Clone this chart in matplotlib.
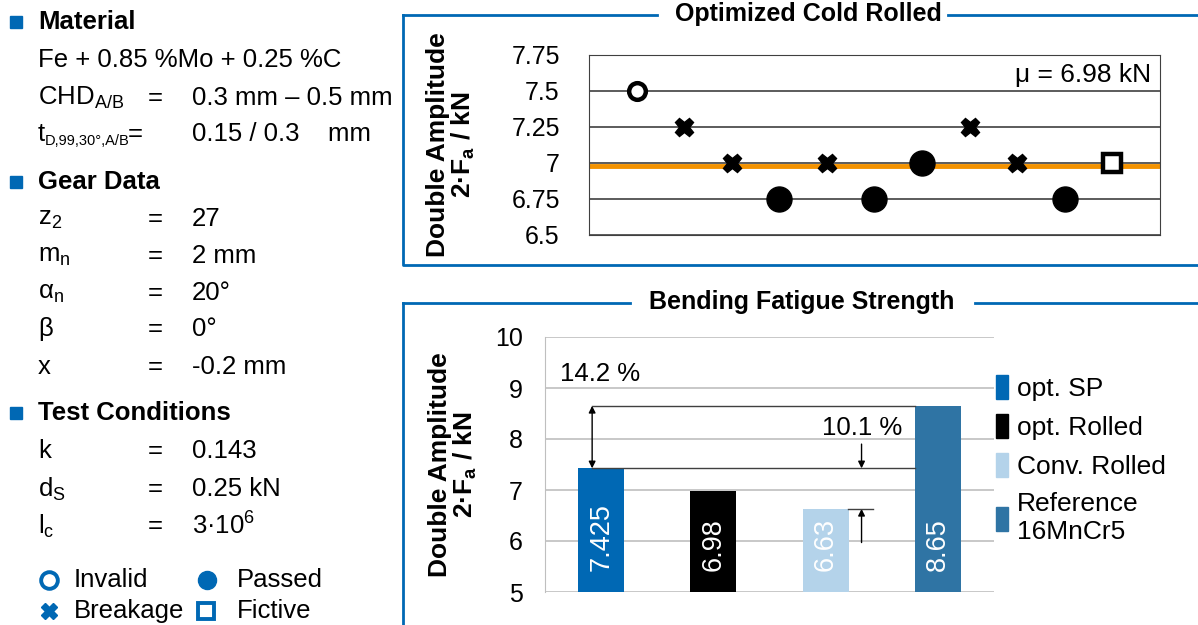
import matplotlib
matplotlib.use("Agg")
import matplotlib.pyplot as plt

plt.rcParams['font.family'] = ['Liberation Sans', 'DejaVu Sans']
plt.rcParams['mathtext.fontset'] = 'custom'
plt.rcParams['mathtext.rm'] = 'Liberation Sans'
plt.rcParams['mathtext.it'] = 'Liberation Sans'
plt.rcParams['mathtext.bf'] = 'Liberation Sans:bold'

# daten: treppenstufenversuch optimized cold rolled
test_no = [1, 2, 3, 4, 5, 6, 7, 8, 9, 10, 11]
amplitude = [7.5, 7.25, 7.0, 6.75, 7.0, 6.75, 7.0, 7.25, 7.0, 6.75, 7.0]
outcome = ['invalid', 'breakage', 'breakage', 'passed', 'breakage', 'passed',
           'passed', 'breakage', 'breakage', 'passed', 'fictive']
mean_amp = 6.98
top_ticks = [6.5, 6.75, 7, 7.25, 7.5, 7.75]
top_ticklabels = ['6.5', '6.75', '7', '7.25', '7.5', '7.75']

# daten: bending fatigue strength
variants = ['opt. SP', 'opt. Rolled', 'Conv. Rolled', 'Reference\n16MnCr5']
strength = [7.425, 6.98, 6.63, 8.65]
bar_colors = ['#0068B4', '#000000', '#B4D3EA', '#2F74A4']
gain_ref = '14.2 %'
gain_conv = '10.1 %'

BLUE = '#0068B4'
W, H = 1198, 625

fig = plt.figure(figsize=(W / 100, H / 100), dpi=100)

# overlay in pixeln fuer rahmen und text
ov = fig.add_axes([0, 0, 1, 1])
ov.set_xlim(0, W)
ov.set_ylim(H, 0)
ov.axis('off')

fs = 18.5

# linke spalte
def head(y, txt):
    ov.plot([16], [y], marker='s', ms=8.5, color=BLUE, ls='none')
    ov.text(38, y, txt, fontsize=fs, fontweight='bold', va='center')

def row(y, lab, val):
    ov.text(38, y, lab, fontsize=fs, va='center')
    ov.text(148, y, '=', fontsize=fs, va='center')
    ov.text(192, y, val, fontsize=fs, va='center')

head(22, 'Material')
ov.text(38, 60, 'Fe + 0.85 %Mo + 0.25 %C', fontsize=fs, va='center')
row(98, r'CHD$_\mathregular{A/B}$', '0.3 mm – 0.5 mm')
ov.text(38, 134, 't', fontsize=fs, va='center')
ov.text(45, 141, 'D,99,30°,A/B', fontsize=10.5, va='center')
ov.text(128, 134, '=', fontsize=fs, va='center')
ov.text(192, 134, '0.15 / 0.3    mm', fontsize=fs, va='center')
head(182, 'Gear Data')
row(219, r'z$_\mathregular{2}$', '27')
row(256, r'm$_\mathregular{n}$', '2 mm')
row(293, r'α$_\mathregular{n}$', '20°')
row(329, 'β', '0°')
row(367, 'x', '-0.2 mm')
head(413, 'Test Conditions')
row(451, 'k', '0.143')
row(489, r'd$_\mathregular{S}$', '0.25 kN')
row(526, r'l$_\mathregular{c}$', r'3·10$^\mathregular{6}$')

# legende links
ov.plot([49], [580], marker='o', ms=12, mfc='white', mec=BLUE, mew=2.8, ls='none')
ov.text(74, 580, 'Invalid', fontsize=fs, va='center')
ov.plot([207], [580], marker='o', ms=13, color=BLUE, ls='none')
ov.text(237, 580, 'Passed', fontsize=fs, va='center')
ov.plot([49], [611], marker='X', ms=12, color=BLUE, ls='none')
ov.text(74, 611, 'Breakage', fontsize=fs, va='center')
ov.plot([206], [611], marker='s', ms=12, mfc='white', mec=BLUE, mew=2.8, ls='none')
ov.text(237, 611, 'Fictive', fontsize=fs, va='center')

# rahmen oben
ov.plot([403, 403, 1198], [15, 265, 265], color=BLUE, lw=2)
ov.plot([403, 657], [15, 15], color=BLUE, lw=2)
ov.plot([948, 1198], [15, 15], color=BLUE, lw=2)
ov.text(808, 14, 'Optimized Cold Rolled', fontsize=18, fontweight='bold',
        ha='center', va='center')

# rahmen unten
ov.plot([403, 403], [303, 625], color=BLUE, lw=2)
ov.plot([403, 630], [303, 303], color=BLUE, lw=2)
ov.plot([975, 1198], [303, 303], color=BLUE, lw=2)
ov.text(802, 302, 'Bending Fatigue Strength', fontsize=18, fontweight='bold',
        ha='center', va='center')

ylab = 'Double Amplitude\n' + r'2·F$_\mathbf{a}$ / kN'

# oberes diagramm
ax1 = fig.add_axes([589 / W, 1 - 235 / H, 571 / W, 180 / H])
for yv in top_ticks:
    ax1.axhline(yv, color='#404040', lw=1.2, zorder=1)
ax1.axhline(mean_amp, color='#F39200', lw=3.5, zorder=2)
styles = {
    'invalid': dict(marker='o', ms=12, mfc='white', mec='black', mew=3.2),
    'breakage': dict(marker='X', ms=13, color='black'),
    'passed': dict(marker='o', ms=18, color='black'),
    'fictive': dict(marker='s', ms=13, mfc='white', mec='black', mew=3.2),
}
for xv, yv, oc in zip(test_no, amplitude, outcome):
    ax1.plot([xv], [yv], ls='none', zorder=3, **styles[oc])
ax1.set_xlim(0, 12)
ax1.set_ylim(6.5, 7.75)
ax1.set_yticks(top_ticks)
ax1.set_yticklabels(top_ticklabels, fontsize=18)
ax1.set_xticks([])
ax1.tick_params(axis='y', length=0, pad=21)
for s in ax1.spines.values():
    s.set_color('#404040')
ax1.text(0.985, 0.955, 'μ = 6.98 kN', transform=ax1.transAxes, fontsize=19,
         ha='right', va='top')
ax1.set_ylabel(ylab, fontsize=19, fontweight='bold', linespacing=0.95)
ax1.yaxis.set_label_coords(-0.197, 0.5)

# unteres diagramm
ax2 = fig.add_axes([545 / W, 1 - 592 / H, 449 / W, 255 / H])
xs = range(len(variants))
ax2.bar(xs, strength, width=0.41, color=bar_colors, zorder=3)
for xv, v in zip(xs, strength):
    ax2.text(xv, 5.42, f'{v:g}', rotation=90, color='white', fontsize=19.5,
             ha='center', va='bottom', zorder=4)
ax2.set_xlim(-0.5, 3.5)
ax2.set_ylim(5, 10)
ax2.set_yticks([5, 6, 7, 8, 9, 10])
ax2.yaxis.grid(True, color='#BFBFBF', lw=1.2, zorder=0)
ax2.tick_params(axis='y', length=0, labelsize=18, pad=16)
ax2.set_xticks([])
for k in ['top', 'right', 'bottom']:
    ax2.spines[k].set_visible(False)
ax2.spines['left'].set_color('#BFBFBF')
ax2.set_ylabel(ylab, fontsize=19, fontweight='bold', linespacing=0.95)
ax2.yaxis.set_label_coords(-0.148, 0.5)

# bemassung
ax2.plot([-0.08, 2.8], [strength[0], strength[0]], color='#404040', lw=1, zorder=4)
ax2.plot([-0.08, 2.8], [strength[3], strength[3]], color='#404040', lw=1, zorder=4)
ax2.annotate('', xy=(-0.08, strength[0]), xytext=(-0.08, strength[3]),
             arrowprops=dict(arrowstyle='<|-|>', color='black', lw=1,
                             mutation_scale=10, shrinkA=0, shrinkB=0))
ax2.plot([2.2, 2.42], [strength[2], strength[2]], color='#404040', lw=1, zorder=4)
ax2.annotate('', xy=(2.32, strength[0]), xytext=(2.32, 7.9),
             arrowprops=dict(arrowstyle='-|>', color='black', lw=1,
                             mutation_scale=10, shrinkA=0, shrinkB=0))
ax2.annotate('', xy=(2.32, strength[2]), xytext=(2.32, 5.97),
             arrowprops=dict(arrowstyle='-|>', color='black', lw=1,
                             mutation_scale=10, shrinkA=0, shrinkB=0))
ax2.text(-0.37, 9.03, gain_ref, fontsize=18.5, va='bottom')
ax2.text(1.97, 7.98, gain_conv, fontsize=18.5, va='bottom')

# legende unten
handles = [plt.Rectangle((0, 0), 1, 1, color=c) for c in bar_colors]
ax2.legend(handles, variants, loc='upper left', bbox_to_anchor=(1.005, 0.85),
           frameon=False, fontsize=19, handlelength=0.45, handleheight=1.0,
           handletextpad=0.35, labelspacing=0.5, borderaxespad=0,
           borderpad=0)

fig.savefig('out.png', dpi=100)
